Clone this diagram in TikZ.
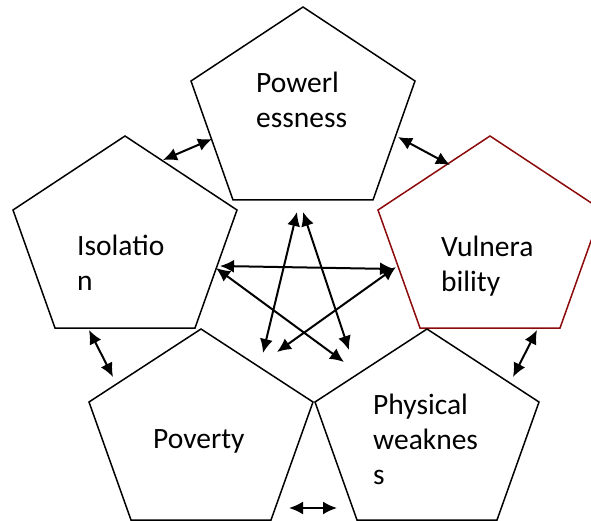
\documentclass[tikz,border=0pt]{standalone}
\usepackage{fontspec}
\setmainfont{Carlito}
\usetikzlibrary{arrows.meta}
\definecolor{vulred}{RGB}{140,10,10}
\begin{document}
\begin{tikzpicture}[x=1pt,y=-1pt,
  pent/.style={line width=1.5pt,line join=miter},
  lbl/.style={anchor=base west,inner sep=0pt,align=left,font=\fontsize{29.5}{35}\selectfont},
  link/.style={line width=2pt,{Latex[length=14pt,width=13pt]}-{Latex[length=14pt,width=13pt]}}]
\useasboundingbox (0,0) rectangle (591,521);
\clip (0,0) rectangle (591,521);
% pentagons
\draw[pent,shift={(303,7)}] (0,0) -- (112,74) -- (70,193) -- (-70,193) -- (-112,74) -- cycle;
\draw[pent,shift={(125,136)}] (0,0) -- (112,74) -- (70,192) -- (-70,192) -- (-112,74) -- cycle;
\draw[pent,draw=vulred,shift={(490,136)}] (0,0) -- (112,74) -- (70,192) -- (-70,192) -- (-112,74) -- cycle;
\draw[pent,shift={(201,329)}] (0,0) -- (112,73) -- (70,191) -- (-70,191) -- (-112,73) -- cycle;
\draw[pent,shift={(427,329)}] (0,0) -- (112,73) -- (70,191) -- (-70,191) -- (-112,73) -- cycle;
% labels (base anchor = baseline of the last line)
\node[lbl] (pow) at (256,128) {Powerl\\essness};
\node[lbl] (iso) at (77,290) {Isolatio\\n};
\node[lbl] (vul) at (441,291) {Vulnera\\bility};
\node[lbl] (pov) at (153,448) {Poverty};
\node[lbl] (phy) at (373,484) {Physical\\weaknes\\s};
% connector end points
\coordinate (powA) at (212,139); \coordinate (isoA) at (163,160);
\coordinate (powB) at (398,137); \coordinate (vulA) at (450,165);
\coordinate (vulB) at (537,330); \coordinate (phyA) at (513,377);
\coordinate (isoB) at (89,330);  \coordinate (povA) at (113,377);
\coordinate (povB) at (289,508); \coordinate (phyB) at (337,508);
\coordinate (powC) at (297,212); \coordinate (povC) at (263,353);
\coordinate (powD) at (303,212); \coordinate (phyC) at (349,350);
\coordinate (isoC) at (220,266); \coordinate (vulC) at (394,269);
\coordinate (isoD) at (216,268); \coordinate (phyD) at (344,362);
\coordinate (vulD) at (396,267); \coordinate (povD) at (277,352);
% connectors
\draw[link] (powA) -- (isoA);
\draw[link] (powB) -- (vulA);
\draw[link] (vulB) -- (phyA);
\draw[link] (isoB) -- (povA);
\draw[link] (povB) -- (phyB);
\draw[link] (powC) -- (povC);
\draw[link] (powD) -- (phyC);
\draw[link] (isoC) -- (vulC);
\draw[link] (isoD) -- (phyD);
\draw[link] (vulD) -- (povD);
\end{tikzpicture}
\end{document}
